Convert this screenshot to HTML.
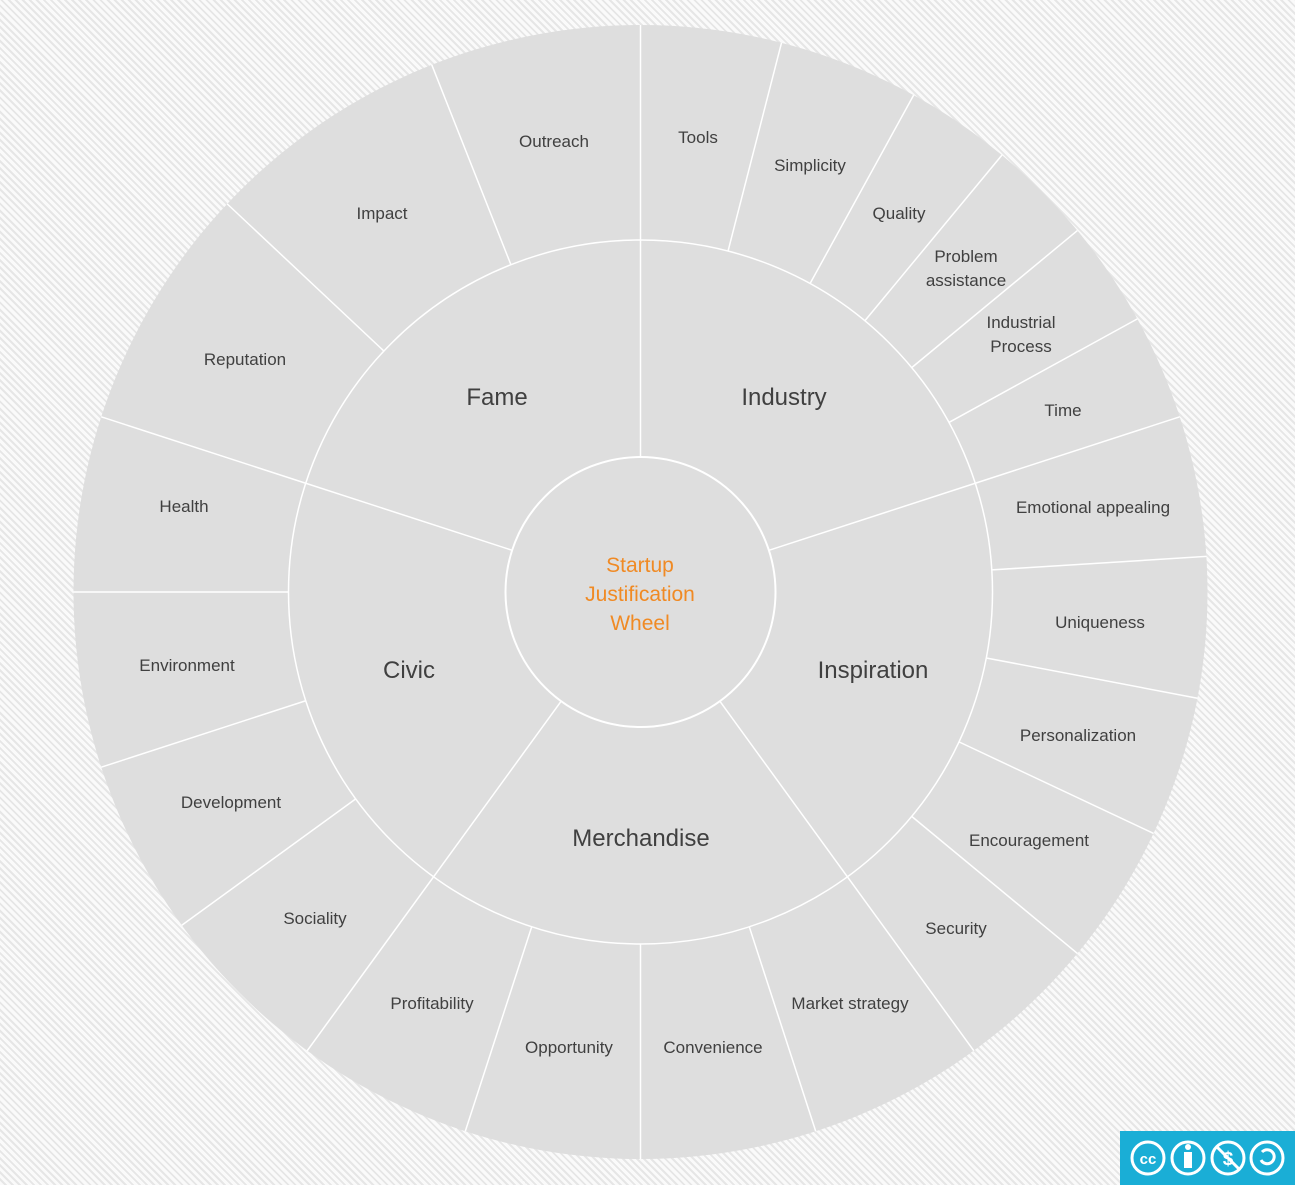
<!DOCTYPE html>
<html><head><meta charset="utf-8"><style>
html,body{margin:0;padding:0}
body{width:1295px;height:1185px;overflow:hidden;position:relative;
background:repeating-linear-gradient(45deg,#fafafa 0 3px,#e6e6e6 3px 5px);}
svg{position:absolute;left:0;top:0}
text{font-family:"Liberation Sans",sans-serif;fill:#404040;text-anchor:middle}
.o{font-size:17px}
.m{font-size:24px}
.c{font-size:21px;fill:#f08a24}
</style></head><body>
<svg width="1295" height="1185" viewBox="0 0 1295 1185">
<g transform="translate(640.5,592)">
<circle r="567" fill="#dedede"/>
<circle r="352" fill="#dedede" stroke="#fff" stroke-width="1.5"/>
<circle r="135" fill="#dedede" stroke="#fff" stroke-width="2"/>
<g stroke="#fff" stroke-width="1.5">
<line x1="352" x2="567" transform="rotate(-90)"/>
<line x1="352" x2="567" transform="rotate(-75.6)"/>
<line x1="352" x2="567" transform="rotate(-61.2)"/>
<line x1="352" x2="567" transform="rotate(-50.4)"/>
<line x1="352" x2="567" transform="rotate(-39.6)"/>
<line x1="352" x2="567" transform="rotate(-28.8)"/>
<line x1="352" x2="567" transform="rotate(-18)"/>
<line x1="352" x2="567" transform="rotate(-3.6)"/>
<line x1="352" x2="567" transform="rotate(10.8)"/>
<line x1="352" x2="567" transform="rotate(25.2)"/>
<line x1="352" x2="567" transform="rotate(39.6)"/>
<line x1="352" x2="567" transform="rotate(54)"/>
<line x1="352" x2="567" transform="rotate(72)"/>
<line x1="352" x2="567" transform="rotate(90)"/>
<line x1="352" x2="567" transform="rotate(108)"/>
<line x1="352" x2="567" transform="rotate(126)"/>
<line x1="352" x2="567" transform="rotate(144)"/>
<line x1="352" x2="567" transform="rotate(162)"/>
<line x1="352" x2="567" transform="rotate(180)"/>
<line x1="352" x2="567" transform="rotate(198)"/>
<line x1="352" x2="567" transform="rotate(223.2)"/>
<line x1="352" x2="567" transform="rotate(248.4)"/>
<line x1="135" x2="352" transform="rotate(-90)"/>
<line x1="135" x2="352" transform="rotate(-18)"/>
<line x1="135" x2="352" transform="rotate(54)"/>
<line x1="135" x2="352" transform="rotate(126)"/>
<line x1="135" x2="352" transform="rotate(198)"/>
</g>
</g>
<text class="c" x="640" y="572">Startup</text>
<text class="c" x="640" y="601">Justification</text>
<text class="c" x="640" y="630">Wheel</text>
<text class="m" x="497" y="405">Fame</text>
<text class="m" x="784" y="405">Industry</text>
<text class="m" x="873" y="678">Inspiration</text>
<text class="m" x="641" y="846">Merchandise</text>
<text class="m" x="409" y="678">Civic</text>
<text class="o" x="554" y="147">Outreach</text>
<text class="o" x="382" y="219">Impact</text>
<text class="o" x="245" y="365">Reputation</text>
<text class="o" x="698" y="143">Tools</text>
<text class="o" x="810" y="171">Simplicity</text>
<text class="o" x="899" y="219">Quality</text>
<text class="o" x="966" y="262">Problem</text>
<text class="o" x="966" y="286">assistance</text>
<text class="o" x="1021" y="328">Industrial</text>
<text class="o" x="1021" y="352">Process</text>
<text class="o" x="1063" y="416">Time</text>
<text class="o" x="1093" y="513">Emotional appealing</text>
<text class="o" x="1100" y="628">Uniqueness</text>
<text class="o" x="1078" y="741">Personalization</text>
<text class="o" x="1029" y="846">Encouragement</text>
<text class="o" x="956" y="934">Security</text>
<text class="o" x="850" y="1009">Market strategy</text>
<text class="o" x="713" y="1053">Convenience</text>
<text class="o" x="569" y="1053">Opportunity</text>
<text class="o" x="432" y="1009">Profitability</text>
<text class="o" x="315" y="924">Sociality</text>
<text class="o" x="231" y="808">Development</text>
<text class="o" x="187" y="671">Environment</text>
<text class="o" x="184" y="512">Health</text>
<rect x="1120" y="1131" width="175" height="54" fill="#1aaed6"/>
<g fill="none" stroke="#fff" stroke-width="3">
<circle cx="1148" cy="1158" r="16"/>
<circle cx="1188" cy="1158" r="16"/>
<circle cx="1228" cy="1158" r="16"/>
<circle cx="1267" cy="1158" r="16"/>
<line x1="1217" y1="1147" x2="1239" y2="1169"/>
<path d="M1262 1152 a7 7 0 1 1 -1 8"/>
</g>
<text x="1148" y="1164" style="font-size:15px;font-weight:bold;fill:#fff">cc</text>
<circle cx="1188" cy="1147" r="3" fill="#fff"/>
<rect x="1184" y="1152" width="8" height="16" fill="#fff"/>
<text x="1228" y="1165" style="font-size:19px;font-weight:bold;fill:#fff">$</text>
</svg>
</body></html>
